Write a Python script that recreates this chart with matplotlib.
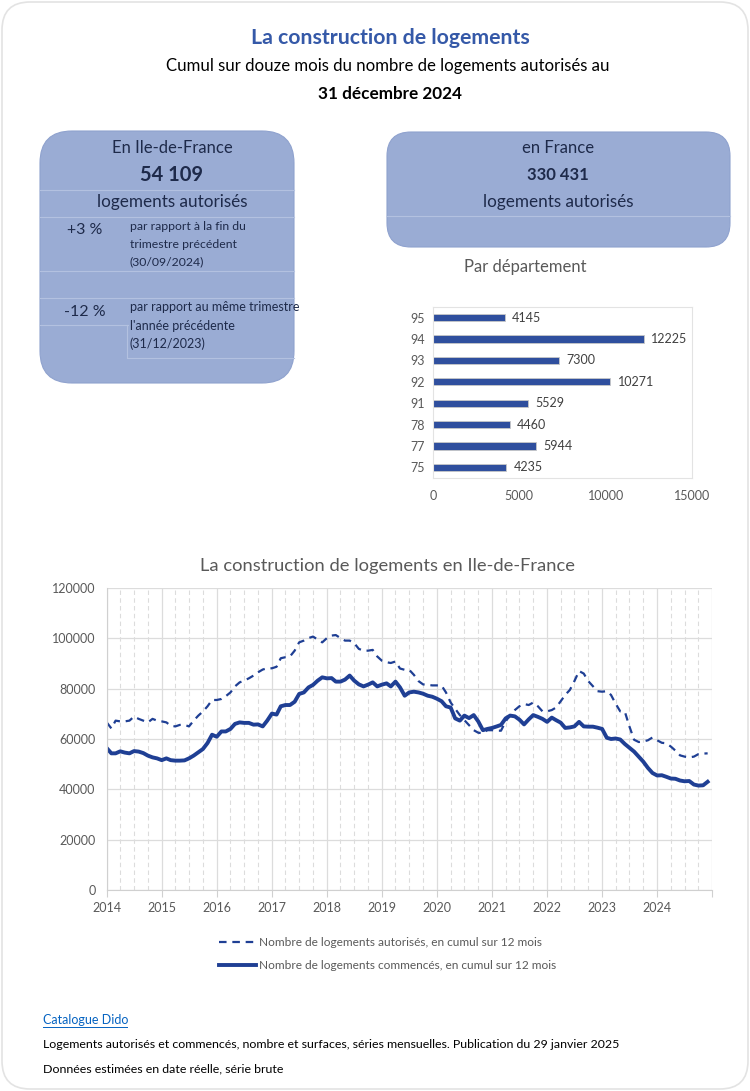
import numpy as np
import pandas as pd
import matplotlib
matplotlib.use("Agg")
import matplotlib.pyplot as plt
import matplotlib.dates as mdates
from matplotlib.patches import FancyBboxPatch
from matplotlib.lines import Line2D

# --- data -------------------------------------------------------------
depts = ["75", "77", "78", "91", "92", "93", "94", "95"]
dept_values = [4235, 5944, 4460, 5529, 10271, 7300, 12225, 4145]

months = pd.date_range("2014-01-01", "2024-12-01", freq="MS")

autorises = [
    66600, 64200, 67300, 67000, 67000, 67300, 68900, 68000, 67300, 66600, 68000, 67300,  # 2014
    67000, 66600, 65300, 65000, 65600, 65600, 65000, 67300, 69300, 70900, 73000, 75500,  # 2015
    75500, 75900, 77000, 78500, 80900, 82500, 83200, 84100, 85200, 86500, 87600, 88100,  # 2016
    88100, 88700, 92100, 92500, 92800, 95100, 98400, 99100, 100100, 100700, 99500, 98400,  # 2017
    100100, 101100, 101300, 100100, 99100, 99100, 98100, 95800, 95100, 95100, 95400, 92800,  # 2018
    91100, 90500, 90200, 90800, 88000, 87500, 87500, 85500, 83000, 81700, 81500, 81300,  # 2019
    81300, 81200, 78500, 74500, 72000, 69500, 67500, 65500, 63500, 62500, 62300, 63500,  # 2020
    63500, 63300, 63300, 67000, 69500, 71500, 73000, 73900, 73500, 74500, 73000, 71000,  # 2021
    71000, 71500, 72500, 75000, 77500, 79500, 83000, 87000, 86000, 83000, 81000, 79000,  # 2022
    78800, 79000, 77500, 74000, 71000, 70800, 65000, 59700, 58800, 59000, 59500, 60600,  # 2023
    59500, 58500, 58300, 57000, 55400, 53500, 53000, 52700, 53000, 54000, 54200, 54300,  # 2024
]
commences = [
    56400, 54300, 54300, 55100, 54600, 54300, 55200, 55000, 54400, 53400, 52700, 52300,  # 2014
    51600, 52300, 51600, 51400, 51400, 51500, 52300, 53400, 54700, 56000, 58400, 61700,  # 2015
    60900, 63000, 63000, 64000, 66000, 66600, 66400, 66400, 65700, 65800, 65000, 67300,  # 2016
    70100, 69700, 73000, 73500, 73500, 74800, 77900, 78500, 80500, 81500, 83200, 84500,  # 2017
    84100, 84200, 82800, 82800, 83600, 85200, 83200, 81700, 80900, 81600, 82500, 80900,  # 2018
    81600, 82100, 80900, 82800, 80500, 77200, 78500, 78800, 78500, 78000, 77200, 76800,  # 2019
    76000, 75000, 73000, 72500, 68200, 67300, 69300, 68300, 69500, 67000, 63500, 64000,  # 2020
    64400, 65000, 65600, 68200, 69300, 69000, 67700, 65800, 67800, 69500, 68800, 68000,  # 2021
    66800, 68500, 67500, 66500, 64400, 64600, 65000, 66800, 65000, 64900, 64900, 64500,  # 2022
    64000, 60500, 60000, 60200, 59800, 58000, 56500, 55000, 53000, 51000, 48500, 46500,  # 2023
    45500, 45600, 45000, 44300, 44200, 43500, 43200, 43300, 41900, 41500, 41600, 43000,  # 2024
]

# --- figure -----------------------------------------------------------
W, H = 750, 1091
fig = plt.figure(figsize=(W / 100, H / 100), dpi=100)
fig.patch.set_facecolor("white")

narrow = ["Lato", "DejaVu Sans"]
sans = ["Lato", "DejaVu Sans"]
navy = "#1E2A4A"
gray = "#595959"
blue = "#1F3F94"
boxcol = "#9AACD4"


def fx(x):
    return x / W


def fy(y):
    return 1 - y / H


def rbox(x0, y0, x1, y1, r, **kw):
    p = FancyBboxPatch((x0 / 100, (H - y1) / 100), (x1 - x0) / 100, (y1 - y0) / 100,
                       boxstyle="round,pad=0,rounding_size=%f" % (r / 100),
                       transform=fig.dpi_scale_trans, zorder=-5, **kw)
    fig.patches.append(p)


def hline(x0, x1, y, color="#B3C1E0", lw=0.8):
    fig.add_artist(Line2D([fx(x0), fx(x1)], [fy(y), fy(y)], color=color, lw=lw,
                          transform=fig.transFigure))


# outer frame
rbox(2, 2, 748, 1089, 28, facecolor="none", edgecolor="#E3E3E3", lw=1.2)

# header
fig.text(fx(390), fy(38), "La construction de logements", ha="center", va="center",
         fontsize=15.3, fontweight="bold", color="#3559A8", family=narrow)
fig.text(fx(388), fy(66), "Cumul sur douze mois du nombre de logements autorisés au",
         ha="center", va="center", fontsize=12.1, color="black", family=narrow)
fig.text(fx(390), fy(94), "31 décembre 2024", ha="center", va="center",
         fontsize=12.3, fontweight="bold", color="black", family=narrow)

# Ile-de-France box
rbox(40, 131, 294, 383, 32, facecolor=boxcol, edgecolor="#8FA2CE", lw=0.8)
for yy in (190, 217, 271):
    hline(40, 294, yy)
hline(40, 294, 298)
hline(40, 128, 325)
hline(128, 294, 358)
fig.add_artist(Line2D([fx(127), fx(127)], [fy(325), fy(358)], color="#B3C1E0", lw=0.8,
                      transform=fig.transFigure))
fig.text(fx(172), fy(148), "En Ile-de-France", ha="center", va="center", fontsize=12, color=navy, family=sans)
fig.text(fx(172), fy(175), "54 109", ha="center", va="center", fontsize=14.5, fontweight="bold", color=navy, family=sans)
fig.text(fx(172), fy(202), "logements autorisés", ha="center", va="center", fontsize=12.3, color=navy, family=sans)
fig.text(fx(85), fy(230), "+3 %", ha="center", va="center", fontsize=11.5, color=navy, family=sans)
fig.text(fx(130), fy(226), "par rapport à la fin du", ha="left", va="center", fontsize=8.8, color=navy, family=sans)
fig.text(fx(130), fy(244), "trimestre précédent", ha="left", va="center", fontsize=8.8, color=navy, family=sans)
fig.text(fx(130), fy(262), "(30/09/2024)", ha="left", va="center", fontsize=8.8, color=navy, family=sans)
fig.text(fx(85), fy(312), "-12 %", ha="center", va="center", fontsize=11.5, color=navy, family=sans)
fig.text(fx(130), fy(307), "par rapport au même trimestre", ha="left", va="center", fontsize=9, color=navy, family=sans)
fig.text(fx(130), fy(326), "l'année précédente", ha="left", va="center", fontsize=9, color=navy, family=sans)
fig.text(fx(130), fy(344), "(31/12/2023)", ha="left", va="center", fontsize=9, color=navy, family=sans)

# France box
rbox(387, 132, 730, 247, 24, facecolor=boxcol, edgecolor="#8FA2CE", lw=0.8)
hline(387, 730, 216)
fig.text(fx(558), fy(148), "en France", ha="center", va="center", fontsize=12, color=navy, family=sans)
fig.text(fx(558), fy(175), "330 431", ha="center", va="center", fontsize=12, fontweight="bold", color=navy, family=sans)
fig.text(fx(558), fy(202), "logements autorisés", ha="center", va="center", fontsize=12.3, color=navy, family=sans)

fig.text(fx(525), fy(267), "Par département", ha="center", va="center", fontsize=12, color=gray, family=sans)

# --- bar chart by departement ----------------------------------------
axb = fig.add_axes([fx(433), fy(478), fx(692) - fx(433), fy(307) - fy(478)])
ypos = np.arange(len(depts))
axb.barh(ypos, dept_values, height=0.34, color="#2F4F9E", edgecolor="#C8C8C8", lw=0.6)
for yv, v in zip(ypos, dept_values):
    axb.text(v + 420, yv, str(v), va="center", ha="left", fontsize=9, color="#404040", family=sans)
axb.set_xlim(0, 15000)
axb.set_ylim(-0.5, len(depts) - 0.5)
axb.set_yticks(ypos)
axb.set_yticklabels(depts)
axb.set_xticks([0, 5000, 10000, 15000])
axb.tick_params(length=0, labelsize=9, labelcolor=gray, pad=6)
axb.tick_params(axis="x", pad=9)
for lab in axb.get_xticklabels() + axb.get_yticklabels():
    lab.set_family(sans)
for s in axb.spines.values():
    s.set_color("#E3E3E3")
    s.set_linewidth(0.8)

# --- line chart ---------------------------------------------------------
ax = fig.add_axes([fx(106.7), fy(890), fx(712.3) - fx(106.7), fy(588) - fy(890)])
ax.plot(months, autorises, color=blue, lw=1.6, ls=(0, (3.4, 2.6)),
        label="Nombre de logements autorisés, en cumul sur 12 mois")
ax.plot(months, commences, color=blue, lw=2.8, solid_joinstyle="round",
        label="Nombre de logements commencés, en cumul sur 12 mois")
ax.set_xlim(pd.Timestamp("2014-01-01"), pd.Timestamp("2025-01-01"))
ax.set_ylim(0, 120000)
ax.set_yticks(np.arange(0, 120001, 20000))
ax.xaxis.set_major_locator(mdates.YearLocator())
ax.xaxis.set_minor_locator(mdates.MonthLocator(bymonth=[4, 7, 10]))
ax.xaxis.set_major_formatter(mdates.DateFormatter("%Y"))
ax.grid(axis="y", which="major", color="#DCDCDC", lw=0.9)
ax.grid(axis="x", which="major", color="#DCDCDC", lw=0.9)
ax.grid(axis="x", which="minor", color="#DCDCDC", lw=0.8, ls=(0, (4, 3)))
ax.set_axisbelow(True)
ax.tick_params(axis="y", length=0, labelsize=9, labelcolor=gray, pad=8)
ax.tick_params(axis="x", which="major", length=5, color="#D0D0D0", labelsize=9, labelcolor=gray, pad=4)
ax.tick_params(axis="x", which="minor", length=0)
for s in ("top", "right"):
    ax.spines[s].set_visible(False)
for s in ("left", "bottom"):
    ax.spines[s].set_color("#D0D0D0")
fig.canvas.draw()
labs = ax.get_xticklabels()
labs[-1].set_visible(False)
for lab in ax.get_xticklabels() + ax.get_yticklabels():
    lab.set_family(sans)
fig.text(fx(388), fy(566), "La construction de logements en Ile-de-France", ha="center", va="center",
         fontsize=13.2, color=gray, family=sans)

fig.legend(loc="upper left", bbox_to_anchor=(fx(208), fy(926)), frameon=False,
           handlelength=3.1, handletextpad=0.3, labelspacing=1.05, labelcolor=gray,
           prop={"family": narrow, "size": 8.6})

# --- footer ---------------------------------------------------------------
fig.text(fx(43), fy(1020), "Catalogue Dido", ha="left", va="center", fontsize=9,
         color="#0563C1", family=narrow)
hline(43, 127, 1027, color="#0563C1", lw=0.7)
fig.text(fx(43), fy(1044), "Logements autorisés et commencés, nombre et surfaces, séries mensuelles. "
         "Publication du 29 janvier 2025", ha="left", va="center", fontsize=8.9, color="black", family=narrow)
fig.text(fx(43), fy(1069), "Données estimées en date réelle, série brute", ha="left", va="center",
         fontsize=8.9, color="black", family=narrow)

fig.savefig("out.png", dpi=100)
